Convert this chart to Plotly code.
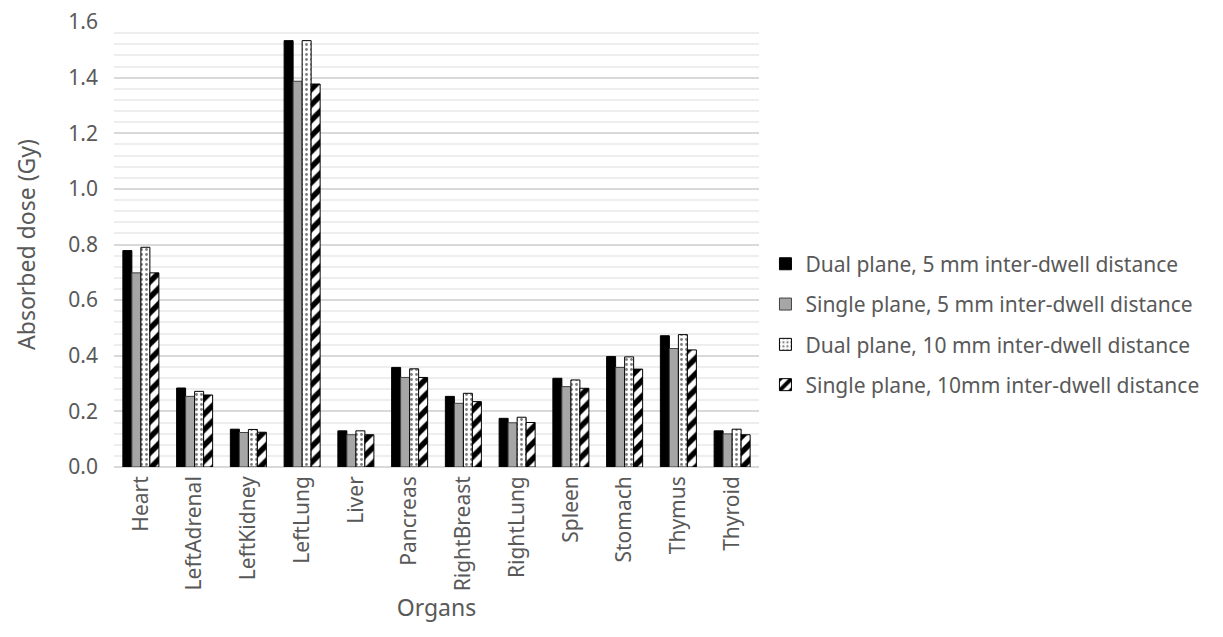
import plotly.graph_objects as go

organs = ["Heart", "LeftAdrenal", "LeftKidney", "LeftLung", "Liver", "Pancreas",
          "RightBreast", "RightLung", "Spleen", "Stomach", "Thymus", "Thyroid"]

dual_5mm = [0.778, 0.284, 0.136, 1.533, 0.130, 0.358, 0.254, 0.175, 0.319, 0.397, 0.472, 0.130]
single_5mm = [0.698, 0.254, 0.124, 1.387, 0.116, 0.322, 0.229, 0.159, 0.289, 0.358, 0.426, 0.119]
dual_10mm = [0.790, 0.272, 0.135, 1.533, 0.130, 0.353, 0.265, 0.179, 0.313, 0.396, 0.476, 0.136]
single_10mm = [0.698, 0.259, 0.125, 1.377, 0.116, 0.322, 0.235, 0.160, 0.283, 0.352, 0.421, 0.116]

names = ["Dual plane, 5 mm inter-dwell distance",
         "Single plane, 5 mm inter-dwell distance",
         "Dual plane, 10 mm inter-dwell distance",
         "Single plane, 10mm inter-dwell distance"]

y_ticks = [0.0, 0.2, 0.4, 0.6, 0.8, 1.0, 1.2, 1.4, 1.6]
y_tick_labels = ["0.0", "0.2", "0.4", "0.6", "0.8", "1.0", "1.2", "1.4", "1.6"]

FONT = "Noto Sans"
TXT = "#595959"

fig = go.Figure()
fig.add_trace(go.Bar(x=organs, y=dual_5mm, name=names[0], legendgroup="a",
                     marker=dict(color="black", line=dict(color="black", width=1))))
fig.add_trace(go.Bar(x=organs, y=single_5mm, name=names[1], legendgroup="b",
                     marker=dict(color="#a6a6a6", line=dict(color="#404040", width=1))))
fig.add_trace(go.Bar(x=organs, y=dual_10mm, name=names[2], legendgroup="c",
                     marker=dict(color="white", line=dict(color="black", width=1),
                                 pattern=dict(shape=".", bgcolor="white", fgcolor="black",
                                              size=5, solidity=0.25))))
fig.add_trace(go.Bar(x=organs, y=single_10mm, name=names[3], legendgroup="d",
                     marker=dict(color="white", line=dict(color="black", width=1),
                                 pattern=dict(shape="/", bgcolor="white", fgcolor="black",
                                              fgopacity=1, size=11, solidity=0.5))))

fig.update_layout(
    width=1223, height=637,
    margin=dict(l=106, r=472, t=14, b=178),
    paper_bgcolor="white", plot_bgcolor="white",
    barmode="group", bargap=0.33, bargroupgap=0,
    font=dict(family=FONT, color=TXT, size=21),
    legend=dict(x=1.01, xanchor="left", y=0.32, yanchor="middle",
                font=dict(size=21, color=TXT), tracegroupgap=10,
                traceorder="grouped"),
    xaxis=dict(title=dict(text="Organs", font=dict(size=23, color=TXT), standoff=4),
               tickangle=-90, tickfont=dict(size=21, color=TXT),
               ticklabelstandoff=4,
               showline=False, showgrid=False, ticks=""),
    yaxis=dict(title=dict(text="Absorbed dose (Gy)", font=dict(size=23, color=TXT), standoff=26),
               automargin="left",
               range=[0, 1.6], tickvals=y_ticks, ticktext=y_tick_labels,
               tickfont=dict(size=21, color=TXT), ticklabeloverflow="allow",
               showgrid=True, gridcolor="#d9d9d9", gridwidth=2,
               ticks="", ticklabelstandoff=15,
               zeroline=True, zerolinecolor="#d9d9d9", zerolinewidth=2,
               minor=dict(dtick=0.04, showgrid=True, gridcolor="#eeeeee", gridwidth=2),
               showline=False),
)

fig.write_html("out.html")
